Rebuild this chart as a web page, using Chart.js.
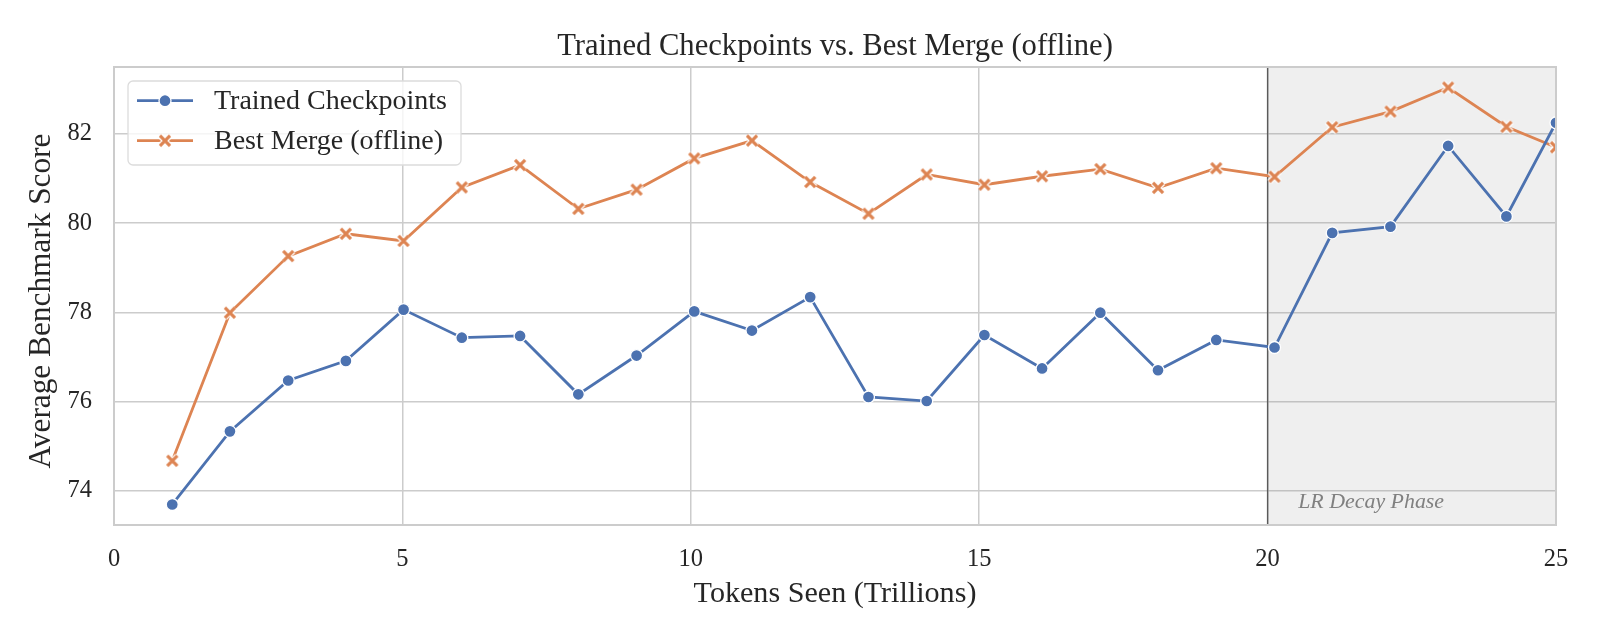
<!DOCTYPE html>
<html lang="en">
<head>
    <meta charset="UTF-8">
    <title>Trained Checkpoints vs. Best Merge (offline)</title>
    <style>
        body {
            margin: 0;
            background: #ffffff;
        }
        #wrap {
            width: 1600px;
            height: 640px;
        }
    </style>
    <script src="https://cdn.jsdelivr.net/npm/chart.js@4.4.1/dist/chart.umd.min.js"></script>
</head>
<body>
    <div id="wrap"><canvas id="chart" width="1600" height="640"></canvas></div>
    <script>
        // values
        const tokensSeen = [1.01, 2.01, 3.02, 4.02, 5.02, 6.03, 7.04, 8.05, 9.06, 10.06, 11.06, 12.07, 13.08,
                            14.09, 15.09, 16.09, 17.10, 18.10, 19.11, 20.12, 21.12, 22.13, 23.13, 24.14, 25.0];
        const trainedScores = [73.69, 75.33, 76.47, 76.91, 78.06, 77.43, 77.47, 76.16, 77.03, 78.02, 77.59, 78.34, 76.10,
                               76.01, 77.49, 76.74, 77.99, 76.70, 77.38, 77.21, 79.78, 79.92, 81.73, 80.15, 82.25];
        const mergeScores = [74.67, 77.99, 79.26, 79.76, 79.60, 80.80, 81.30, 80.32, 80.75, 81.45, 81.85, 80.92, 80.21,
                             81.09, 80.86, 81.05, 81.21, 80.79, 81.23, 81.04, 82.15, 82.50, 83.04, 82.16, 81.70];
        const seriesNames = ['Trained Checkpoints', 'Best Merge (offline)'];
        const xTicks = [0, 5, 10, 15, 20, 25];
        const yTicks = [74, 76, 78, 80, 82];
        const decayStart = 20;
        const decayEnd = 25;

        const FONT = "'Liberation Serif', 'DejaVu Serif', serif";
        const TEXT = '#262626';
        const BLUE = '#4c72b0';
        const ORANGE = '#dd8452';

        // pick a font size so a string comes out at a given width
        const measureCtx = document.createElement('canvas').getContext('2d');
        function fitSize(text, width, style) {
            measureCtx.font = (style || '') + ' 100px ' + FONT;
            return 100 * width / measureCtx.measureText(text).width;
        }
        const titleSize = fitSize('Trained Checkpoints vs. Best Merge (offline)', 556);
        const xTitleSize = fitSize('Tokens Seen (Trillions)', 283);
        const yTitleSize = fitSize('Average Benchmark Score', 335);
        const legendSize = fitSize(seriesNames[0], 233);
        const tickSize = fitSize('74', 24.5);
        const noteSize = fitSize('LR Decay Phase', 146, 'italic');

        // filled "X" marker with a white edge, like seaborn's
        function makeXMarker(size, color) {
            const c = document.createElement('canvas');
            c.width = size;
            c.height = size;
            const g = c.getContext('2d');
            const a = size * 0.22, b = size * 0.78;
            g.lineCap = 'butt';
            g.beginPath();
            g.moveTo(a, a); g.lineTo(b, b);
            g.moveTo(b, a); g.lineTo(a, b);
            g.strokeStyle = '#ffffff';
            g.lineWidth = 5.6;
            g.stroke();
            g.strokeStyle = color;
            g.lineWidth = 3.2;
            g.stroke();
            return c;
        }
        const xMarker = makeXMarker(18, ORANGE);

        const toPoints = (ys) => ys.map((y, i) => ({ x: tokensSeen[i], y: y }));

        const extras = {
            id: 'extras',
            beforeDatasetsDraw(chart) {
                const { ctx, chartArea, scales } = chart;
                const x0 = scales.x.getPixelForValue(decayStart);
                const x1 = scales.x.getPixelForValue(decayEnd);
                ctx.save();
                ctx.fillStyle = 'rgba(128,128,128,0.13)';
                ctx.fillRect(x0, chartArea.top, x1 - x0, chartArea.bottom - chartArea.top);
                ctx.strokeStyle = '#5a5a5a';
                ctx.lineWidth = 1.4;
                ctx.beginPath();
                ctx.moveTo(x0, chartArea.top);
                ctx.lineTo(x0, chartArea.bottom);
                ctx.stroke();
                ctx.restore();
            },
            afterDatasetsDraw(chart) {
                const { ctx, chartArea, scales } = chart;
                ctx.save();
                // spines
                ctx.strokeStyle = '#cccccc';
                ctx.lineWidth = 2;
                ctx.strokeRect(chartArea.left, chartArea.top, chartArea.right - chartArea.left, chartArea.bottom - chartArea.top);

                // phase note
                ctx.fillStyle = '#808080';
                ctx.font = 'italic ' + noteSize + 'px ' + FONT;
                ctx.textAlign = 'left';
                ctx.textBaseline = 'middle';
                ctx.fillText('LR Decay Phase', scales.x.getPixelForValue(20.53), scales.y.getPixelForValue(73.73));

                // title
                ctx.fillStyle = TEXT;
                ctx.textAlign = 'center';
                ctx.font = titleSize + 'px ' + FONT;
                ctx.fillText('Trained Checkpoints vs. Best Merge (offline)', (chartArea.left + chartArea.right) / 2, 47);

                // axis titles
                ctx.font = xTitleSize + 'px ' + FONT;
                ctx.fillText('Tokens Seen (Trillions)', (chartArea.left + chartArea.right) / 2, 594);
                ctx.save();
                ctx.translate(42, (chartArea.top + chartArea.bottom) / 2 + 5);
                ctx.rotate(-Math.PI / 2);
                ctx.font = yTitleSize + 'px ' + FONT;
                ctx.fillText('Average Benchmark Score', 0, 0);
                ctx.restore();

                // legend box
                const bx = 128, by = 81, bw = 333, bh = 84;
                ctx.beginPath();
                ctx.roundRect(bx, by, bw, bh, 5);
                ctx.fillStyle = 'rgba(255,255,255,0.8)';
                ctx.fill();
                ctx.strokeStyle = '#dcdcdc';
                ctx.lineWidth = 1.3;
                ctx.stroke();

                const rows = [100.7, 140.7];
                chart.data.datasets.forEach((ds, i) => {
                    const y = rows[i];
                    ctx.strokeStyle = ds.borderColor;
                    ctx.lineWidth = ds.borderWidth;
                    ctx.beginPath();
                    ctx.moveTo(137, y);
                    ctx.lineTo(193, y);
                    ctx.stroke();
                    if (ds.pointStyle === 'circle') {
                        ctx.beginPath();
                        ctx.arc(165, y, ds.pointRadius, 0, Math.PI * 2);
                        ctx.fillStyle = ds.pointBackgroundColor;
                        ctx.fill();
                        ctx.strokeStyle = '#ffffff';
                        ctx.lineWidth = ds.pointBorderWidth;
                        ctx.stroke();
                    } else {
                        ctx.drawImage(ds.pointStyle, 165 - 9, y - 9);
                    }
                    ctx.fillStyle = TEXT;
                    ctx.font = legendSize + 'px ' + FONT;
                    ctx.textAlign = 'left';
                    ctx.textBaseline = 'middle';
                    ctx.fillText(ds.label, 214, y + 1);
                });
                ctx.restore();
            }
        };

        new Chart(document.getElementById('chart'), {
            type: 'line',
            data: {
                datasets: [
                    {
                        label: seriesNames[0],
                        data: toPoints(trainedScores),
                        borderColor: BLUE,
                        backgroundColor: BLUE,
                        borderWidth: 2.8,
                        pointStyle: 'circle',
                        pointRadius: 6,
                        pointBackgroundColor: BLUE,
                        pointBorderColor: '#ffffff',
                        pointBorderWidth: 1.3,
                        clip: 0
                    },
                    {
                        label: seriesNames[1],
                        data: toPoints(mergeScores),
                        borderColor: ORANGE,
                        backgroundColor: ORANGE,
                        borderWidth: 2.8,
                        pointStyle: xMarker,
                        pointRadius: 9,
                        clip: 0
                    }
                ]
            },
            options: {
                responsive: false,
                animation: false,
                devicePixelRatio: 1,
                layout: {
                    padding: { top: 67, right: 44, bottom: 0, left: 0 }
                },
                plugins: {
                    legend: { display: false },
                    title: { display: false },
                    tooltip: { enabled: false }
                },
                scales: {
                    x: {
                        type: 'linear',
                        min: 0,
                        max: 25,
                        afterFit: (scale) => { scale.height = 115; },
                        afterBuildTicks: (scale) => { scale.ticks = xTicks.map(v => ({ value: v })); },
                        grid: { color: '#cccccc', lineWidth: 1.5, drawTicks: false },
                        border: { display: false },
                        ticks: {
                            padding: 20,
                            color: TEXT,
                            font: { family: FONT, size: tickSize },
                            maxRotation: 0
                        }
                    },
                    y: {
                        min: 73.23,
                        max: 83.5,
                        afterFit: (scale) => { scale.width = 114; },
                        afterBuildTicks: (scale) => { scale.ticks = yTicks.map(v => ({ value: v })); },
                        grid: { color: '#cccccc', lineWidth: 1.5, drawTicks: false },
                        border: { display: false },
                        ticks: {
                            padding: 22,
                            color: TEXT,
                            font: { family: FONT, size: tickSize }
                        }
                    }
                }
            },
            plugins: [extras]
        });
    </script>
</body>
</html>
